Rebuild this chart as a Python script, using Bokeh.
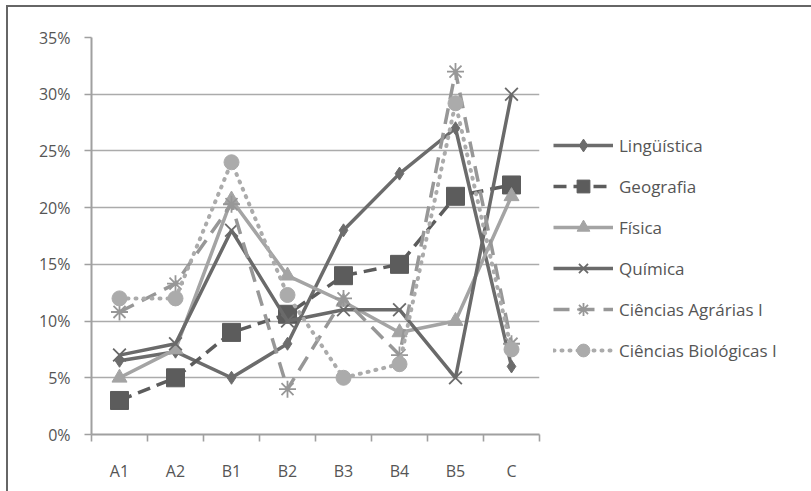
from bokeh.plotting import figure
from bokeh.models import FixedTicker, PrintfTickFormatter, Legend, Range1d
from bokeh.embed import file_html
from bokeh.resources import INLINE

categories = ["A1", "A2", "B1", "B2", "B3", "B4", "B5", "C"]
linguistica = [6.5, 7.3, 5, 8, 18, 23, 27, 6]
geografia = [3, 5, 9, 10.6, 14, 15, 21, 22]
fisica = [5, 7.5, 20.7, 14, 11.7, 9, 10, 21]
quimica = [7, 8, 18, 10, 11, 11, 5, 30]
agrarias = [10.8, 13.3, 20.3, 4, 12, 7, 32, 8]
biologicas = [12, 12, 24, 12.3, 5, 6.2, 29.2, 7.5]
y_ticks = [0, 5, 10, 15, 20, 25, 30, 35]

xs = [i + 0.5 for i in range(len(categories))]

FONT = "Open Sans"

p = figure(width=803, height=484, frame_width=448, frame_height=397,
           output_backend="svg", toolbar_location=None,
           x_range=Range1d(0, len(categories)), y_range=Range1d(0, 35),
           min_border_left=83, min_border_right=272, min_border_top=30, min_border_bottom=57)
p.styles = {"border-left": "2px solid #666666", "border-top": "2px solid #666666",
            "margin-left": "6px", "margin-top": "5px"}
p.outline_line_color = None
p.background_fill_color = "white"
p.border_fill_color = "white"

p.xgrid.grid_line_color = None
p.ygrid.grid_line_color = "#ababab"
p.ygrid.grid_line_width = 1.6
p.ygrid.ticker = FixedTicker(ticks=y_ticks)

p.yaxis.ticker = FixedTicker(ticks=y_ticks)
p.yaxis.formatter = PrintfTickFormatter(format="%d%%")
p.yaxis.axis_line_color = "#a0a0a0"
p.yaxis.axis_line_width = 2
p.yaxis.major_tick_line_color = "#a0a0a0"
p.yaxis.major_tick_line_width = 1.6
p.yaxis.major_tick_out = 7
p.yaxis.major_tick_in = 0
p.yaxis.minor_tick_line_color = None
p.yaxis.major_label_text_font = FONT
p.yaxis.major_label_text_font_size = "16px"
p.yaxis.major_label_text_color = "#555555"
p.yaxis.major_label_standoff = 14

p.xaxis.ticker = FixedTicker(ticks=xs, minor_ticks=list(range(len(categories) + 1)))
p.xaxis.major_label_overrides = {x: c for x, c in zip(xs, categories)}
p.xaxis.axis_line_color = "#a0a0a0"
p.xaxis.axis_line_width = 2
p.xaxis.major_tick_line_color = None
p.xaxis.major_tick_out = 0
p.xaxis.major_tick_in = 0
p.xaxis.minor_tick_line_color = "#a0a0a0"
p.xaxis.minor_tick_line_width = 1.6
p.xaxis.minor_tick_out = 7
p.xaxis.minor_tick_in = 0
p.xaxis.major_label_text_font = FONT
p.xaxis.major_label_text_font_size = "16px"
p.xaxis.major_label_text_color = "#555555"
p.xaxis.major_label_standoff = 18

items = []

def series(name, ys, color, dash, marker, msize, lw=3.5, mlw=1.5, cap="butt"):
    r1 = p.line(xs, ys, line_color=color, line_width=lw, line_dash=dash, line_cap=cap)
    if marker in ("x", "asterisk"):
        r2 = p.scatter(xs, ys, marker=marker, size=msize, line_color=color, line_width=mlw)
    else:
        r2 = p.scatter(xs, ys, marker=marker, size=msize, fill_color=color, line_color=color)
    items.append((name, [r1, r2]))

series("Lingüística", linguistica, "#6c6c6c", "solid", "diamond", 13)
series("Geografia", geografia, "#5c5c5c", "13 7", "square", 18)
series("Física", fisica, "#a4a4a4", "solid", "triangle", 15)
series("Química", quimica, "#6a6a6a", "solid", "x", 18, mlw=1.8)
series("Ciências Agrárias I", agrarias, "#979797", "16 9", "asterisk", 17, mlw=1.8)
series("Ciências Biológicas I", biologicas, "#ababab", "1 7", "circle", 15, lw=4, cap="round")

legend = Legend(items=items, location=(14, 68), orientation="vertical")
legend.glyph_width = 60
legend.glyph_height = 32
legend.label_height = 20
legend.spacing = 9
legend.padding = 0
legend.margin = 0
legend.label_standoff = 6
legend.border_line_color = None
legend.background_fill_alpha = 0
legend.label_text_font = FONT
legend.label_text_font_size = "17px"
legend.label_text_color = "#555555"
p.add_layout(legend, "right")

open("out.html", "w").write(file_html(p, INLINE))
